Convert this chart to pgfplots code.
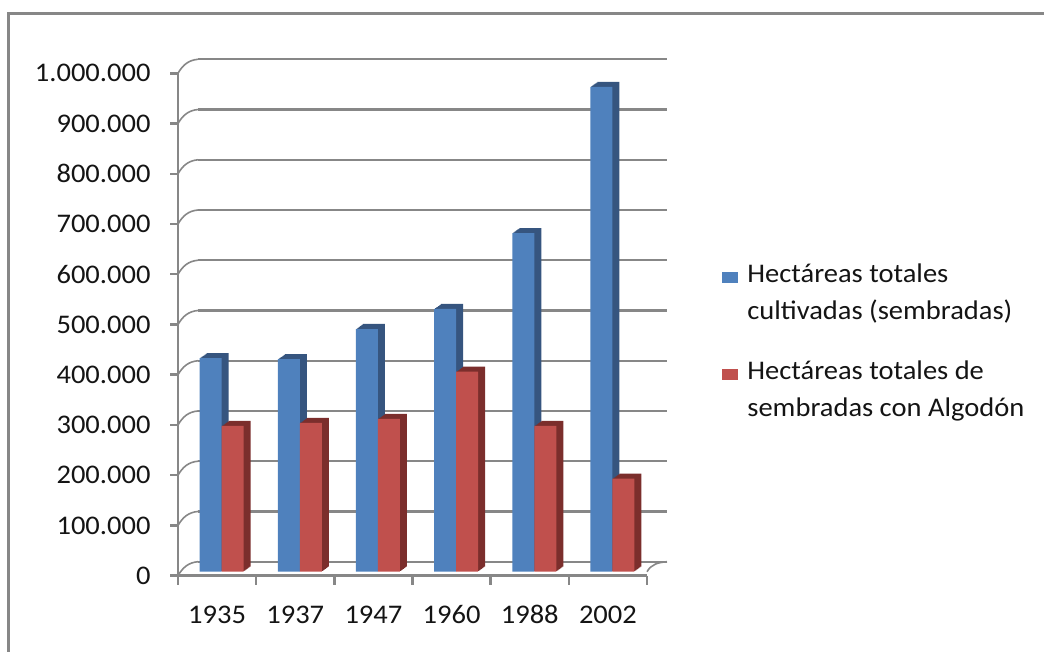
\documentclass[border=0pt]{standalone}
\usepackage{fontspec}
\setmainfont{Carlito}[FakeStretch=1.06]
\usepackage{pgfplots}
\usepackage{pgfplotstable}
\pgfplotsset{compat=1.18}
\definecolor{bfront}{HTML}{4F81BD}
\definecolor{bside}{HTML}{36557F}
\definecolor{rfront}{HTML}{C0504D}
\definecolor{rside}{HTML}{7B2E2C}
\definecolor{gridg}{HTML}{878787}

\pgfplotstableread{
x y
0 425000
1 423000
2 483000
3 523000
4 674000
5 965000
}\bluedata
\pgfplotstableread{
x y
0 290000
1 296000
2 304000
3 398000
4 290000
5 185000
}\reddata

\begin{document}
\begin{tikzpicture}[x=1bp,y=1bp]
\useasboundingbox (0,0) rectangle (1044,652);
\draw[gridg, line width=3bp] (8.5,0) -- (8.5,638.5) -- (1044,638.5);
\begin{axis}[
  at={(178bp,76.3bp)}, anchor=south west,
  scale only axis, width=469bp, height=502.4bp,
  xmin=-0.5, xmax=5.5, ymin=0, ymax=1000000,
  clip=false,
  axis lines=left,
  axis line style={gridg, line width=2.5bp, -},
  xtick={0,1,2,3,4,5},
  xticklabels={1935,1937,1947,1960,1988,2002},
  x tick style={draw=none},
  xticklabel style={anchor=north, yshift=-19bp, text height=17bp, text depth=0bp},
  ytick={0,100000,200000,300000,400000,500000,600000,700000,800000,900000,1000000},
  y tick style={gridg, line width=2.5bp},
  tick align=outside, major tick length=8bp,
  scaled y ticks=false,
  yticklabel style={/pgf/number format/fixed, /pgf/number format/precision=0,
    /pgf/number format/1000 sep={.}, /pgf/number format/assume math mode=true,
    anchor=east, xshift=-16bp},
  tick label style={font=\fontsize{27}{32}\selectfont, text=black!92},
  legend style={at={(1.1599,0.6204)}, anchor=north west, draw=none, fill=none,
    inner sep=0pt, outer sep=0pt, column sep=10bp, row sep=10.5bp,
    font=\fontsize{27}{32}\selectfont,
    nodes={inner xsep=0pt, inner ysep=0pt, text height=19bp, text depth=7bp, text=black!92}},
  legend cell align=left,
]
% back wall gridlines and connectors
\pgfplotsinvokeforeach{0,100000,200000,300000,400000,500000,600000,700000,800000,900000,1000000}{
  \draw[gridg, line width=2.2bp] ([xshift=20bp,yshift=14bp]axis cs:-0.5,#1) -- ([xshift=20bp,yshift=14bp]axis cs:5.5,#1);
  \draw[gridg, line width=1.6bp] (axis cs:-0.5,#1) to[out=60,in=185] ([xshift=20bp,yshift=14bp]axis cs:-0.5,#1);
}
\draw[gridg, line width=1.6bp] ([yshift=4bp]axis cs:5.5,0) to[out=60,in=185] ([xshift=20bp,yshift=14bp]axis cs:5.5,0);
\pgfplotsinvokeforeach{-0.5,0.5,1.5,2.5,3.5,4.5,5.5}{
  \draw[gridg, line width=2.5bp] (axis cs:#1,0) -- ([yshift=-9bp]axis cs:#1,0);
}
% blue bars with depth
\pgfplotsinvokeforeach{1,2,3,4,5,6,7}{
  \addplot[ybar, bar width=22bp, bar shift=-11bp, fill=bside, draw=none,
    xshift={(4.5+#1)*1bp}, yshift={(4+#1*0.72)*1bp}, forget plot] table[x=x,y=y]{\bluedata};
}
\addplot[ybar, bar width=22bp, bar shift=-11bp, fill=bfront, draw=none,
  xshift=4.5bp, yshift=4bp, forget plot] table[x=x,y=y]{\bluedata};
% red bars with depth
\pgfplotsinvokeforeach{1,2,3,4,5,6,7}{
  \addplot[ybar, bar width=22bp, bar shift=11bp, fill=rside, draw=none,
    xshift={(4.5+#1)*1bp}, yshift={(4+#1*0.72)*1bp}, forget plot] table[x=x,y=y]{\reddata};
}
\addplot[ybar, bar width=22bp, bar shift=11bp, fill=rfront, draw=none,
  xshift=4.5bp, yshift=4bp, forget plot] table[x=x,y=y]{\reddata};
% legend
\addlegendimage{legend image code/.code={\fill[bfront] (0bp,-5bp) rectangle (15bp,5bp);}}
\addlegendentry{Hectáreas totales}
\addlegendimage{empty legend}
\addlegendentry[text depth=31bp]{cultivadas (sembradas)}
\addlegendimage{legend image code/.code={\fill[rfront] (0bp,-5bp) rectangle (15bp,5bp);}}
\addlegendentry{Hectáreas totales de}
\addlegendimage{empty legend}
\addlegendentry{sembradas con Algodón}
\end{axis}
\end{tikzpicture}
\end{document}
